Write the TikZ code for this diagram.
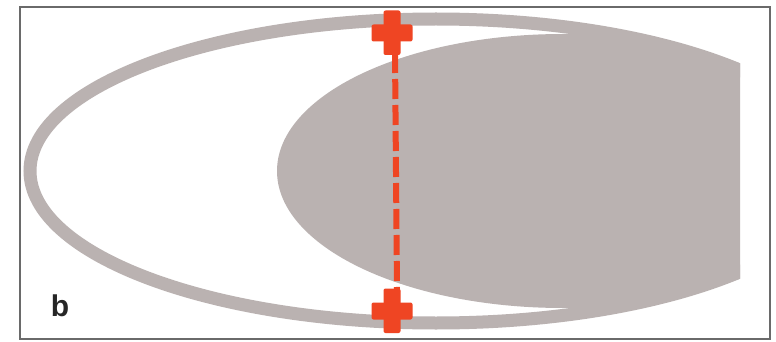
\documentclass[tikz,border=0pt]{standalone}
\usepackage{fontspec}
\setmainfont{Liberation Sans}
\definecolor{lensgray}{HTML}{BAB2B1}
\definecolor{markred}{HTML}{EF4523}
\definecolor{framegray}{HTML}{6A6A6A}
\usepackage{tikz}
\usetikzlibrary{positioning, calc}
\tikzset{
	ringline/.style={
			draw=lensgray,
			line width=13pt
		},
	lensfill/.style={
			fill=lensgray,
			draw=none
		},
	cutline/.style={
			draw=markred,
			line width=6pt,
			dash pattern=on 20pt off 6pt
		},
	labelnode/.style={
			anchor=base,
			inner sep=0pt,
			text=black!85,
			font=\fontsize{30}{36}\selectfont\bfseries
		},
	pluspic/.pic={
			\fill[markred, rounded corners=2pt] (-20.5,-8.5) rectangle (20.5,8.5);
			\fill[markred, rounded corners=2pt] (-8.5,-22.5) rectangle (8.5,22);
		}
}

\begin{document}
\begin{tikzpicture}[x=1pt, y=-1pt]
\useasboundingbox (0,0) rectangle (776,342);
\fill[white] (0,0) rectangle (776,342);

    % lens shapes, cut off on the right
    \begin{scope}
    \clip (0,0) rectangle (740,342);
    \draw[ringline] (436,171) ellipse [x radius=406, y radius=152];
    \fill[lensfill] (563,171) ellipse [x radius=286, y radius=137];
    \end{scope}

    \draw[framegray, line width=2pt] (20,7) rectangle (770,339);

    \coordinate (ptop) at (392,33);
    \coordinate (pbot) at (392,311);
    \draw[cutline] ($(ptop)+(3,20)$) -- ($(pbot)+(5,-19)$);
    \pic at (ptop) {pluspic};
    \pic at (pbot) {pluspic};

    \node[labelnode] (lbl) at (60,316) {b};

\end{tikzpicture}
\end{document}
